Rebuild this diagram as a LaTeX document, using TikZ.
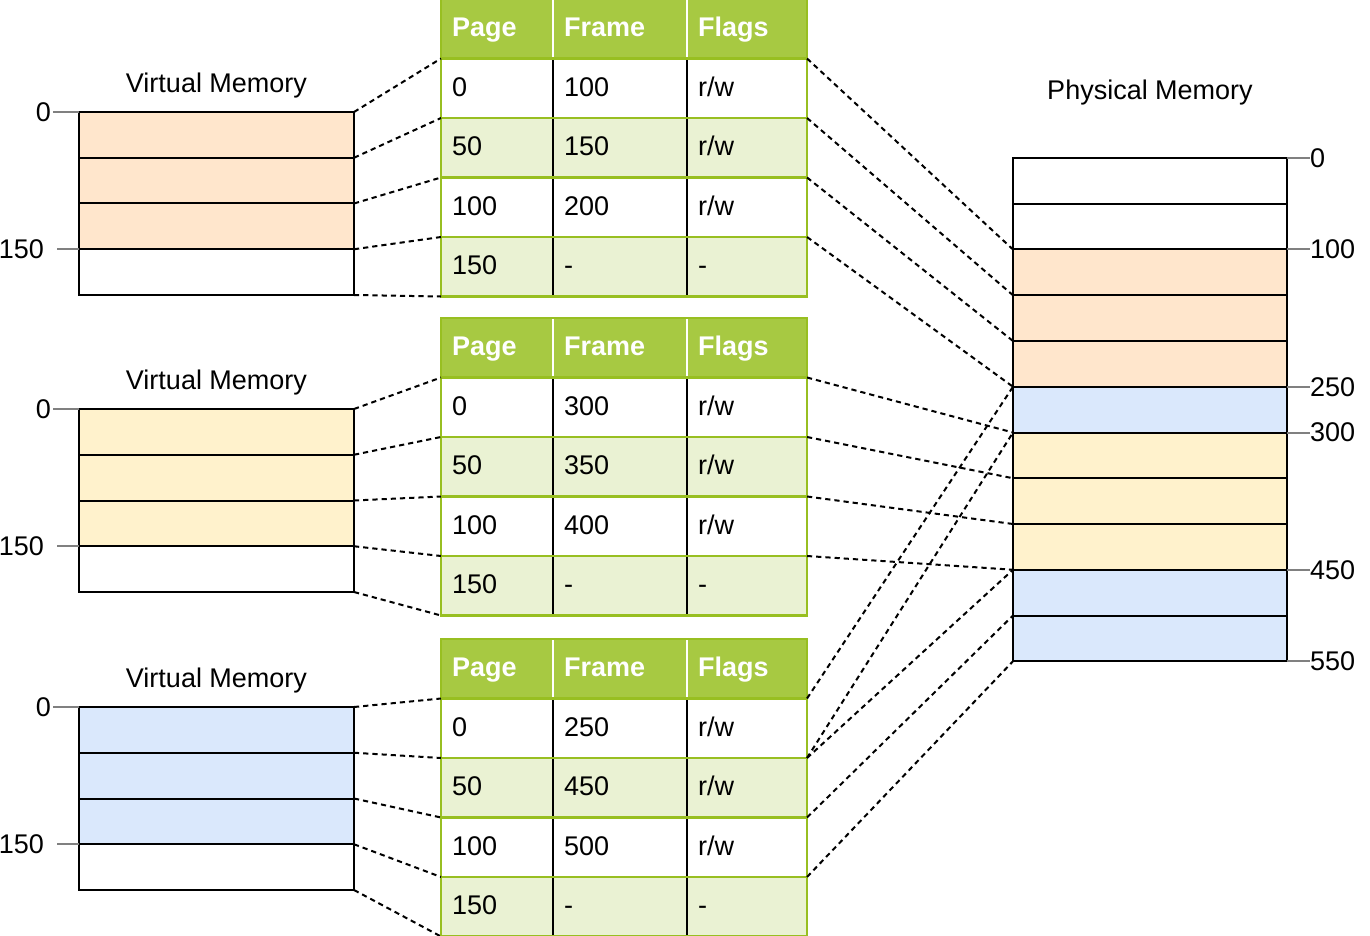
\documentclass[tikz,border=0pt]{standalone}
\usepackage{fontspec}
\setmainfont{Liberation Sans}
\usetikzlibrary{positioning}
\definecolor{peach}{HTML}{FFE6CC}
\definecolor{paleyellow}{HTML}{FFF2CC}
\definecolor{paleblue}{HTML}{DAE8FC}
\definecolor{tablegreen}{HTML}{A7C942}
\definecolor{tableedge}{HTML}{98BF21}
\definecolor{rowgreen}{HTML}{EAF2D3}
\newcommand{\rwflag}{r/w}
\begin{document}
\begin{tikzpicture}[x=0.5pt,y=-0.5pt,
        every node/.style={font=\fontsize{13.5}{16}\selectfont,outer sep=0pt},
        memrow/.style={draw,line width=1pt,anchor=north west,minimum height=22.875pt,inner sep=0pt},
        cell/.style={anchor=north west,minimum height=29.75pt,inner xsep=5.5pt,inner ysep=0pt,align=left,text height=10.8pt,text depth=2.9pt},
        headcell/.style={cell,fill=tablegreen,text=white,font=\fontsize{13.5}{16}\selectfont\bfseries},
        colA/.style={text width=45pt},colB/.style={text width=56pt},colC/.style={text width=49pt},
        gline/.style={draw=tableedge,line width=1.25pt},
        scaletick/.style={draw=gray,line width=1pt},
        pageline/.style={line width=1pt,dash pattern=on 2.6pt off 2pt}]
        \useasboundingbox (0,0) rectangle (1370,936);
        % virtual memories
        \foreach \k/\ytop/\col in {1/112/peach,2/409/paleyellow,3/707/paleblue}{
            \foreach \n/\f in {0/\col,1/\col,2/\col,3/white}
                \node[memrow,minimum width=137.5pt,fill=\f] (v\k-\n) at (79,{\ytop+45.75*\n}) {};
            \node[above=7pt of v\k-0,inner sep=0pt] (v\k-title) {Virtual Memory};
            \node[anchor=east,inner xsep=1pt] (v\k-zero) at ([xshift=-13pt]v\k-0.north west) {0};
            \node[anchor=east,inner xsep=6.5pt] (v\k-end) at ([xshift=-11pt]v\k-3.north west) {150};
            \draw[scaletick] (v\k-zero.east) -- (v\k-0.north west);
            \draw[scaletick] (v\k-end.east) -- (v\k-3.north west);
        }
        % page tables
        \foreach \k/\ytop/\fa/\fb/\fc in {1/-1/100/150/200,2/318/300/350/400,3/639/250/450/500}{
            \node[headcell,colA] (t\k-0-0) at (441,\ytop) {Page};
            \node[headcell,colB] (t\k-0-1) at (553,\ytop) {Frame};
            \node[headcell,colC] (t\k-0-2) at (687,\ytop) {Flags};
            \foreach \row/\pg/\fr/\fl/\bg in {1/0/\fa/\rwflag/white,2/50/\fb/\rwflag/rowgreen,3/100/\fc/\rwflag/white,4/150/-/-/rowgreen}{
                \node[cell,colA,fill=\bg] (t\k-\row-0) at (441,{\ytop+59.5*\row}) {\pg};
                \node[cell,colB,fill=\bg] (t\k-\row-1) at (553,{\ytop+59.5*\row}) {\fr};
                \node[cell,colC,fill=\bg] (t\k-\row-2) at (687,{\ytop+59.5*\row}) {\fl};
            }
            \foreach \cc in {0,1}{
                \draw[white,line width=1.25pt] (t\k-0-\cc.north east) -- (t\k-0-\cc.south east);
                \draw[line width=1.25pt] (t\k-1-\cc.north east) -- (t\k-4-\cc.south east);
            }
            \foreach \row in {1,...,4}
                \draw[gline] (t\k-\row-0.north west) -- (t\k-\row-2.north east);
            \draw[gline] (t\k-0-0.north west) rectangle (t\k-4-2.south east);
        }
        % physical memory
        \foreach \n/\f in {0/white,1/white,2/peach,3/peach,4/peach,5/paleblue,6/paleyellow,7/paleyellow,8/paleyellow,9/paleblue,10/paleblue}
            \node[memrow,minimum width=137pt,fill=\f] (p\n) at (1013,{158+45.75*\n}) {};
        \node[above=26.5pt of p0,inner sep=0pt] (p-title) {Physical Memory};
        \foreach \n/\lab in {0/0,2/100,5/250,6/300,9/450}{
            \node[anchor=west,inner xsep=0pt] (p-at\n) at ([xshift=11.5pt]p\n.north east) {\lab};
            \draw[scaletick] (p\n.north east) -- (p-at\n.west);
        }
        \node[anchor=west,inner xsep=0pt] (p-end) at ([xshift=11.5pt]p10.south east) {550};
        \draw[scaletick] (p10.south east) -- (p-end.west);
        % virtual pages to table rows
        \foreach \k in {1,2,3}{
            \foreach \n/\row in {0/1,1/2,2/3,3/4}
                \draw[pageline] (v\k-\n.north east) -- (t\k-\row-0.north west);
            \draw[pageline] (v\k-3.south east) -- (t\k-4-0.south west);
        }
        % table rows to frames
        \foreach \a/\b in {t1-1-2/p2,t1-2-2/p3,t1-3-2/p4,t1-4-2/p5,t2-1-2/p6,t2-2-2/p7,t2-3-2/p8,t2-4-2/p9,t3-1-2/p5,t3-2-2/p6,t3-2-2/p9,t3-3-2/p10}
            \draw[pageline] (\a.north east) -- (\b.north west);
        \draw[pageline] (t3-4-2.north east) -- (p10.south west);
\end{tikzpicture}
\end{document}
